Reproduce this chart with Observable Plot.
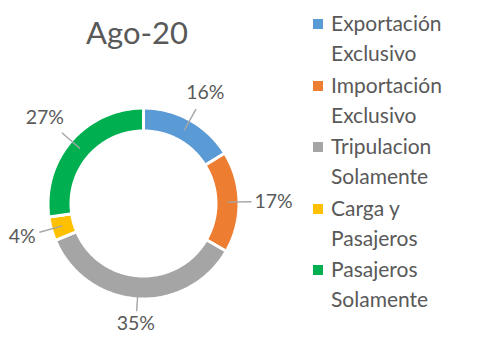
<!DOCTYPE html>
<html>
<head>
<meta charset="utf-8">
<script src="https://cdn.jsdelivr.net/npm/d3@7"></script>
<script src="https://cdn.jsdelivr.net/npm/@observablehq/plot@0.6"></script>
<style>
  body { margin: 0; background: #fff; }
  #chart { position: relative; width: 490px; height: 360px; overflow: hidden;
           font-family: Lato, "Open Sans", sans-serif; color: #595959; }
  #title { position: absolute; left: 0; width: 274px; top: 16.5px; text-align: center;
           font-size: 31px; line-height: 31px; }
  #plot { position: absolute; left: 0; top: 0; }
  #legend { position: absolute; left: 313px; top: 8px; }
  .item { position: relative; padding-left: 18px; font-size: 21px; line-height: 30px;
          margin-bottom: 1.5px; white-space: pre; }
  .swatch { position: absolute; left: 0; top: 11px; width: 10px; height: 10px; }
</style>
</head>
<body>
<div id="chart">
  <div id="title">Ago-20</div>
  <div id="plot"></div>
  <div id="legend"></div>
</div>
<script>
// Share of operations by type, August 2020 (percent)
const categories = [
  "Exportación\nExclusivo",
  "Importación\nExclusivo",
  "Tripulacion\nSolamente",
  "Carga y\nPasajeros",
  "Pasajeros\nSolamente"
];
const shares = [16, 17, 35, 4, 27];
const colors = ["#5B9BD5", "#ED7D31", "#A5A5A5", "#FFC000", "#00B050"];

// Ring geometry in pixel-like data units around the centre
const R_OUT = 95.5, R_IN = 72.5, R_LEAD = 84, PAD = 17;
const LABEL_SIZE = 19.5;

const arcs = d3.pie().sort(null).value(d => d)(shares);

// Outline of each ring segment, angles clockwise from 12 o'clock
const ring = [];
arcs.forEach((a, i) => {
  const cat = categories[i];
  const n = Math.max(6, Math.ceil((a.endAngle - a.startAngle) / (Math.PI / 120)));
  for (let k = 0; k <= n; k++) {
    const t = a.startAngle + (a.endAngle - a.startAngle) * k / n;
    ring.push({cat, x: R_OUT * Math.sin(t), y: R_OUT * Math.cos(t)});
  }
  for (let k = n; k >= 0; k--) {
    const t = a.startAngle + (a.endAngle - a.startAngle) * k / n;
    ring.push({cat, x: R_IN * Math.sin(t), y: R_IN * Math.cos(t)});
  }
});

// Data labels placed just outside the ring at each segment's mid-angle
const labels = arcs.map((a, i) => {
  const mid = (a.startAngle + a.endAngle) / 2;
  const text = `${shares[i]}%`;
  const w = (text.length - 1) * 0.58 * LABEL_SIZE + 0.78 * LABEL_SIZE;
  const h = 16;
  const half = Math.abs(Math.sin(mid)) * w / 2 + Math.abs(Math.cos(mid)) * h / 2;
  const dist = 94 + PAD + half;
  const lead = 94 + PAD - 3;
  return {
    text,
    x: dist * Math.sin(mid), y: dist * Math.cos(mid),
    x1: R_LEAD * Math.sin(mid), y1: R_LEAD * Math.cos(mid),
    x2: lead * Math.sin(mid), y2: lead * Math.cos(mid)
  };
});

const chart = Plot.plot({
  width: 300,
  height: 360,
  margin: 0,
  x: {domain: [-94, 94], range: [49, 237], axis: null},
  y: {domain: [-94, 94], range: [297, 109], axis: null},
  color: {domain: categories, range: colors},
  style: {fontFamily: "Lato, 'Open Sans', sans-serif", background: "transparent", overflow: "visible"},
  marks: [
    Plot.line(ring, {x: "x", y: "y", z: "cat", fill: "cat", stroke: "white",
                     strokeWidth: 3, strokeLinejoin: "miter", curve: "linear-closed"}),
    Plot.link(labels, {x1: "x1", y1: "y1", x2: "x2", y2: "y2",
                       stroke: "#A6A6A6", strokeWidth: 1.4}),
    Plot.text(labels, {x: "x", y: "y", text: "text", fontSize: LABEL_SIZE, fill: "#595959"})
  ]
});
document.getElementById("plot").appendChild(chart);

// Legend: square swatch plus two-line category name
const legend = d3.select("#legend");
categories.forEach((c, i) => {
  const item = legend.append("div").attr("class", "item").text(c);
  item.append("span").attr("class", "swatch").style("background", colors[i]);
});
</script>
</body>
</html>
